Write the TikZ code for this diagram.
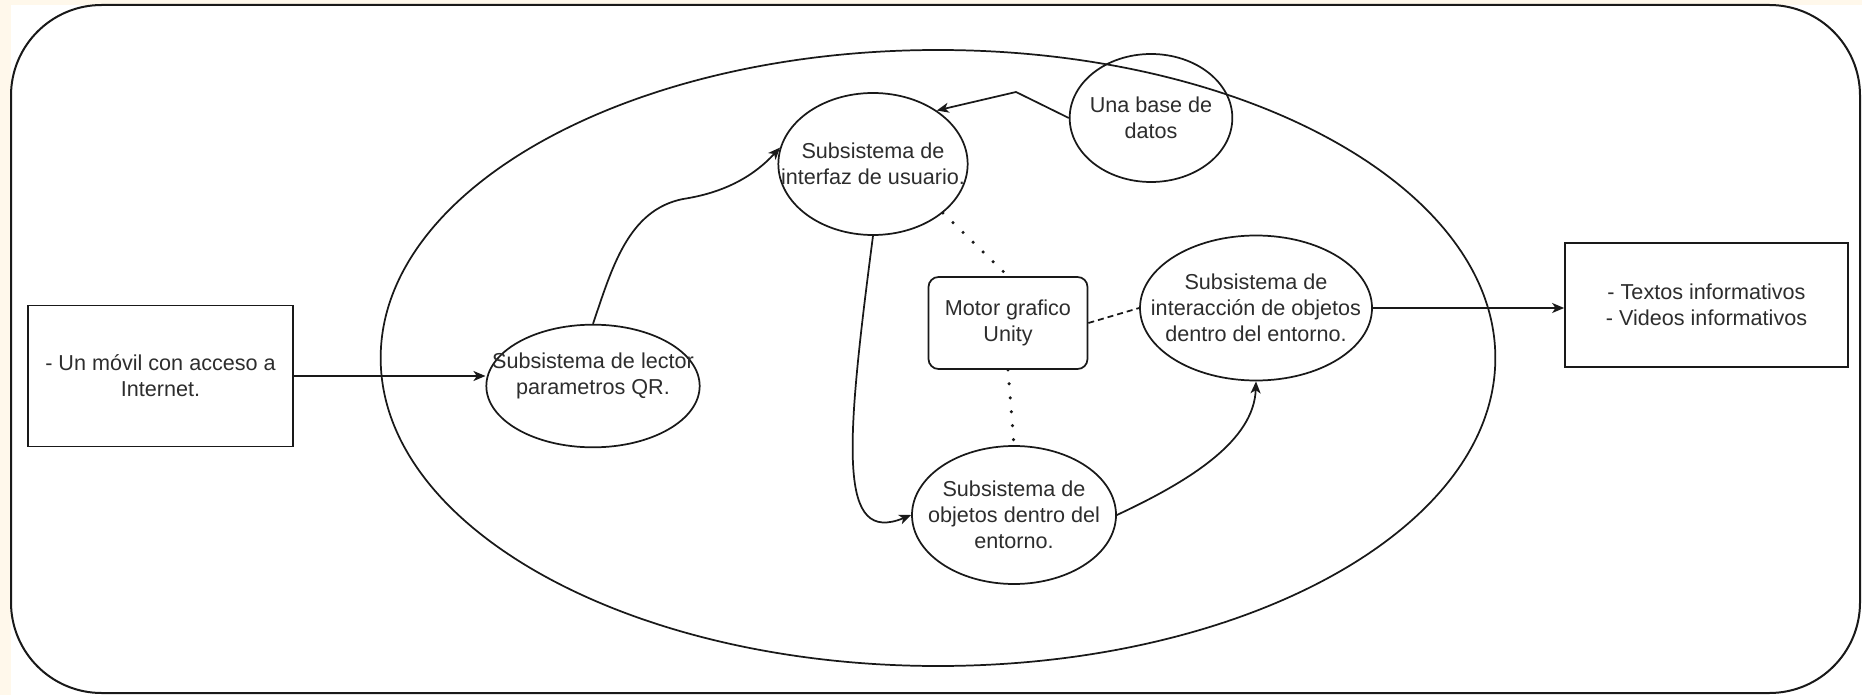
\documentclass[tikz,border=0pt]{standalone}
\usepackage{fontspec}
\setmainfont{Liberation Sans}
\usetikzlibrary{shapes.geometric,arrows.meta}
\definecolor{cream}{RGB}{255,248,235}
\definecolor{ink}{RGB}{25,25,25}
\definecolor{txt}{RGB}{45,45,45}
\begin{document}
\begin{tikzpicture}[x=0.75pt,y=-0.75pt,
  every node/.style={font=\fontsize{16.2}{19.3}\selectfont, text=txt},
  sub/.style={ellipse, draw=ink, line width=1.3pt, inner xsep=-30pt, inner ysep=0pt, align=center},
  boxnode/.style={rectangle, draw=ink, line width=1.3pt, inner sep=0pt, align=center},
  arr/.style={draw=ink, line width=1.3pt, -{Stealth[length=9pt,width=7.5pt,inset=2.5pt]}},
  dots/.style={draw=ink, line width=2.6pt, line cap=round, dash pattern=on 0pt off 10.5pt},
  dashes/.style={draw=ink, line width=1.3pt, dash pattern=on 4.5pt off 3pt}]
\useasboundingbox (0,0) rectangle (1862,695);
\fill[cream] (0,0) rectangle (1862,695);
\fill[white] (11,5) rectangle (1862,695);
\draw[ink, line width=1.5pt, rounded corners=68pt] (11,5) rectangle (1860,693);

\node[ellipse, draw=ink, line width=1.3pt, minimum width=836pt, minimum height=462pt, inner sep=0pt] (sys) at (938,358) {};

\node[boxnode, minimum width=198.75pt, minimum height=105.75pt] (mob) at (160.5,376) {- Un móvil con acceso a\\Internet.};
\node[sub, minimum width=160pt, minimum height=92pt,
  label={[name=lectortxt, align=center, yshift=7.5pt]center:Subsistema de lector\\parametros QR.}] (lector) at (593,386) {};
\node[sub, minimum width=142pt, minimum height=106.5pt] (interfaz) at (873,164) {Subsistema de\\interfaz de usuario.};
\node[ellipse, draw=ink, line width=1.3pt, inner xsep=-15pt, inner ysep=0pt, align=center, minimum width=122pt, minimum height=96pt] (base) at (1151,118) {Una base de\\datos};
\node[boxnode, rounded corners=7.5pt, minimum width=119.25pt, minimum height=69pt] (motor) at (1008,323) {Motor grafico\\Unity};
\node[sub, minimum width=174pt, minimum height=108.75pt] (inter) at (1256,308) {Subsistema de\\interacción de objetos\\dentro del entorno.};
\node[sub, minimum width=153pt, minimum height=103.5pt] (obj) at (1014,515) {Subsistema de\\objetos dentro del\\entorno.};
\node[boxnode, minimum width=212.25pt, minimum height=93pt] (out) at (1706.5,305) {- Textos informativos\\- Videos informativos};

\draw[arr] (mob.east) -- (mob.east -| lector.west);
\coordinate (c1) at (683,199);
\draw[arr] (lector.north) .. controls (612,268) and (628,210) .. (c1) .. controls (722,193) and (752,178) .. (interfaz.170);
\coordinate (c2) at (1016,92);
\draw[arr] (base.west) -- (c2) -- (interfaz.40);
\draw[arr] (interfaz.south) .. controls (845,450) and (838,545) .. (obj.west);
\draw[arr] (obj.east) .. controls (1192,480) and (1254,440) .. (inter.south);
\draw[arr] (inter.east) -- (inter.east -| out.west);
\draw[dots] (interfaz.-35) -- (motor.north);
\draw[dots] (motor.south) -- (obj.north);
\draw[dashes] (motor.east) -- (inter.west);
\end{tikzpicture}
\end{document}
